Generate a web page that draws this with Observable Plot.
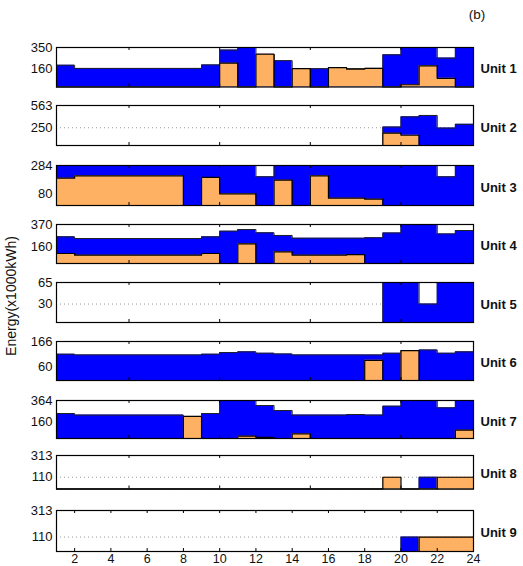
<!DOCTYPE html>
<html><head><meta charset="utf-8">
<script src="https://cdn.jsdelivr.net/npm/d3@7"></script>
<script src="https://cdn.jsdelivr.net/npm/@observablehq/plot@0.6"></script>
<style>
body{margin:0;background:#fff;font-family:"Liberation Sans",Arial,sans-serif;}
#root{position:relative;width:523px;height:566px;overflow:hidden;}
.panel{position:absolute;left:0;}
#ylabel{position:absolute;left:11px;top:296px;transform:translate(-50%,-50%) rotate(-90deg);font-size:14px;white-space:nowrap;color:#111;}
#tag{position:absolute;left:477px;top:14px;transform:translate(-50%,-50%);font-size:13.5px;color:#111;}
</style></head><body><div id="root"><div id="ylabel">Energy(x1000kWh)</div><div id="tag">(b)</div></div>
<script>
const hours = [1,2,3,4,5,6,7,8,9,10,11,12,13,14,15,16,17,18,19,20,21,22,23,24];
const units = ["Unit 1","Unit 2","Unit 3","Unit 4","Unit 5","Unit 6","Unit 7","Unit 8","Unit 9"];
const yMax  = [350,563,284,370,65,166,364,313,313];
const yTick = [160,250,80,160,30,60,160,110,110];
const xTicksInner = [5,10,15,20];
const xTicksBottom = [2,4,6,8,10,12,14,16,18,20,22,24];

const blue1 = [193,165,165,165,165,165,165,165,196,327,350,290,233,162,162,171,163,165,285,350,350,256,350,350];
const orange1 = [0,0,0,0,0,0,0,0,0,211,0,290,0,162,0,171,158,165,0,20,188,77,0,0];
const blue2 = [0,0,0,0,0,0,0,0,0,0,0,0,0,0,0,0,0,0,260,404,423,245,298,298];
const orange2 = [0,0,0,0,0,0,0,0,0,0,0,0,0,0,0,0,0,0,173,144,0,0,0,0];
const blue3 = [284,284,284,284,284,284,284,284,284,284,284,204,284,284,284,284,284,284,284,284,284,204,284,284];
const orange3 = [194,211,211,211,211,211,211,0,199,83,83,0,180,0,211,52,52,45,0,0,0,0,0,0];
const blue4 = [253,237,237,237,237,237,237,237,253,307,322,291,266,240,240,240,240,245,290,370,370,281,313,313];
const orange4 = [95,79,79,79,79,79,79,79,95,0,187,0,111,79,79,79,85,0,0,0,0,0,0,0];
const blue5 = [0,0,0,0,0,0,0,0,0,0,0,0,0,0,0,0,0,0,65,65,30,65,65,65];
const orange5 = [0,0,0,0,0,0,0,0,0,0,0,0,0,0,0,0,0,0,0,0,0,0,0,0];
const blue6 = [112,109,109,109,109,109,109,109,112,119,122,116,113,109,109,109,109,109,116,127,130,116,122,122];
const orange6 = [0,0,0,0,0,0,0,0,0,0,0,0,0,0,0,0,0,86,0,127,0,0,0,0];
const blue7 = [239,224,224,224,224,224,224,211,239,364,364,316,268,224,224,224,230,224,310,364,364,294,364,364];
const orange7 = [0,0,0,0,0,0,0,211,0,0,22,10,0,45,0,0,0,0,0,0,0,0,80,80];
const blue8 = [0,0,0,0,0,0,0,0,0,0,0,0,0,0,0,0,0,0,0,0,110,0,0,0];
const orange8 = [0,0,0,0,0,0,0,0,0,0,0,0,0,0,0,0,0,0,110,0,0,110,110,110];
const blue9 = [0,0,0,0,0,0,0,0,0,0,0,0,0,0,0,0,0,0,0,110,0,0,0,0];
const orange9 = [0,0,0,0,0,0,0,0,0,0,0,0,0,0,0,0,0,0,0,0,110,110,110,110];

const blues = [blue1,blue2,blue3,blue4,blue5,blue6,blue7,blue8,blue9];
const oranges = [orange1,orange2,orange3,orange4,orange5,orange6,orange7,orange8,orange9];

// layout (pixels)
const panelTop = [46.5,105,164.5,224,282,341,400,454.5,510];
const panelBottom = [86,145,204.5,263,322,380,438,488,551];
const BLUE = "#0000ff", ORANGE = "#ffb163";

const root = document.getElementById("root");
units.forEach((u, i) => {
  const last = i === units.length - 1;
  const mt = 8, mb = last ? 15 : 3;
  const h = panelBottom[i] - panelTop[i];
  const rows = hours.map((x, k) => ({x, b: blues[i][k], o: oranges[i][k]}));
  const xt = last ? xTicksBottom : xTicksInner;
  const chart = Plot.plot({
    width: 523, height: h + mt + mb,
    marginLeft: 56, marginRight: 50, marginTop: mt, marginBottom: mb,
    style: {fontFamily: '"Liberation Sans", Arial, sans-serif', fontSize: "12px", background: "none", overflow: "visible", color: "#111"},
    x: {domain: [1, 24], axis: last ? undefined : null},
    y: {domain: [0, yMax[i]]},
    marks: [
      Plot.ruleY([yTick[i]], {stroke: "#999", strokeDasharray: "1,3"}),
      Plot.areaY(rows, {x: "x", y: "b", curve: "step-after", fill: BLUE}),
      Plot.lineY(rows, {x: "x", y: "b", curve: "step-after", stroke: "#222", strokeWidth: 1}),
      Plot.areaY(rows, {x: "x", y: "o", curve: "step-after", fill: ORANGE}),
      Plot.lineY(rows, {x: "x", y: "o", curve: "step-after", stroke: "#000", strokeWidth: 1.2}),
      Plot.frame({stroke: "#000", strokeWidth: 1.2}),
      Plot.ruleX(xt, {insetTop: h - 3, stroke: "#000"}),
      Plot.ruleX(xt, {insetBottom: h - 3, stroke: "#000"}),
      Plot.axisY({ticks: [yTick[i], yMax[i]], tickSize: 0, tickPadding: 4, label: null, tickFormat: d => String(d), fontSize: 13}),
      last ? Plot.axisX({ticks: xt, tickSize: 0, tickPadding: 3, label: null, tickFormat: d => String(d), fontSize: 12.5}) : null,
      Plot.text([u], {frameAnchor: "right", dx: 7, dy: 2, textAnchor: "start", fontWeight: "bold", fontSize: 13})
    ]
  });
  chart.classList.add("panel");
  chart.style.top = (panelTop[i] - mt) + "px";
  root.appendChild(chart);
});
</script>
</body></html>
